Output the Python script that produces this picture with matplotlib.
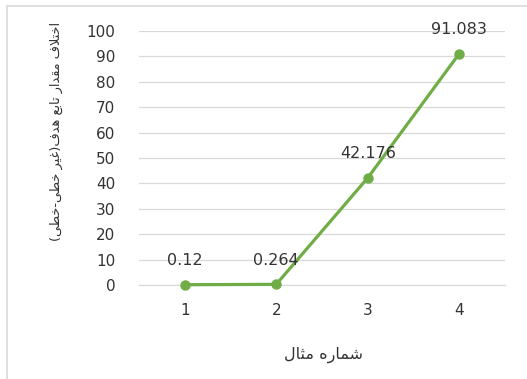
import matplotlib
matplotlib.use("Agg")
import matplotlib.pyplot as plt
from matplotlib.patches import Rectangle

categories = ["1", "2", "3", "4"]
values = [0.12, 0.264, 42.176, 91.083]
value_labels = ["0.12", "0.264", "42.176", "91.083"]
y_ticks = [0, 10, 20, 30, 40, 50, 60, 70, 80, 90, 100]
y_title = "اختلاف مقدار تابع هدف(غیر خطی-خطی)"
x_title = "شماره مثال"

FORMS = {
    'ا': ('\uFE8D', '\uFE8E', None, None),
    'ب': ('\uFE8F', '\uFE90', '\uFE91', '\uFE92'),
    'ت': ('\uFE95', '\uFE96', '\uFE97', '\uFE98'),
    'ث': ('\uFE99', '\uFE9A', '\uFE9B', '\uFE9C'),
    'خ': ('\uFEA5', '\uFEA6', '\uFEA7', '\uFEA8'),
    'د': ('\uFEA9', '\uFEAA', None, None),
    'ر': ('\uFEAD', '\uFEAE', None, None),
    'ش': ('\uFEB5', '\uFEB6', '\uFEB7', '\uFEB8'),
    'ط': ('\uFEC1', '\uFEC2', '\uFEC3', '\uFEC4'),
    'ع': ('\uFEC9', '\uFECA', '\uFECB', '\uFECC'),
    'غ': ('\uFECD', '\uFECE', '\uFECF', '\uFED0'),
    'ف': ('\uFED1', '\uFED2', '\uFED3', '\uFED4'),
    'ق': ('\uFED5', '\uFED6', '\uFED7', '\uFED8'),
    'ل': ('\uFEDD', '\uFEDE', '\uFEDF', '\uFEE0'),
    'م': ('\uFEE1', '\uFEE2', '\uFEE3', '\uFEE4'),
    'ه': ('\uFEE9', '\uFEEA', '\uFEEB', '\uFEEC'),
    'ی': ('\uFEEF', '\uFEF0', '\uFEF3', '\uFEF4'),
}


def shape(s):
    out = []
    i = 0
    n = len(s)
    while i < n:
        c = s[i]
        if c not in FORMS:
            out.append(c)
            i += 1
            continue
        prev = s[i - 1] if i > 0 else None
        pj = prev in FORMS and FORMS[prev][2] is not None
        if c == 'ل' and i + 1 < n and s[i + 1] == 'ا':
            out.append('\uFEFC' if pj else '\uFEFB')
            i += 2
            continue
        nxt = s[i + 1] if i + 1 < n else None
        nj = (nxt in FORMS) and FORMS[c][2] is not None
        iso, fin, ini, med = FORMS[c]
        if pj and nj:
            f = med
        elif pj:
            f = fin
        elif nj:
            f = ini
        else:
            f = iso
        out.append(f)
        i += 1
    vis = ''.join(out)[::-1]
    vis = vis.translate(str.maketrans({'(': ')', ')': '('}))
    return vis


W, H = 527, 379
fig = plt.figure(figsize=(W / 100, H / 100), dpi=100)
fig.patch.set_facecolor("white")

# outer chart border (left and top visible)
fig.add_artist(Rectangle((7 / W, -0.05), 1.2, (H + 20 - 7) / H * 1.0,
                         transform=fig.transFigure, fill=False,
                         edgecolor="#D9D9D9", linewidth=1.2))

TXT = "#333333"
ax = fig.add_axes([139 / W, 1 - 285 / H, (505 - 139) / W, (285 - 31) / H])
x = list(range(1, len(categories) + 1))
ax.plot(x, values, color="#70AD47", linewidth=2.3, marker="o",
        markersize=6.5, zorder=3, clip_on=False)
for xi, v, lab in zip(x, values, value_labels):
    ax.annotate(lab, (xi, v), xytext=(0, 12), textcoords="offset points",
                ha="center", va="bottom", fontsize=11.5, color=TXT,
                family="DejaVu Sans")

ax.set_xlim(0.5, len(categories) + 0.5)
ax.set_ylim(0, 100)
ax.set_yticks(y_ticks)
ax.set_xticks(x)
ax.set_xticklabels(categories)
ax.grid(axis="y", color="#D9D9D9", linewidth=0.9)
ax.set_axisbelow(True)
for sp in ["top", "right", "left"]:
    ax.spines[sp].set_visible(False)
ax.spines["bottom"].set_color("#D9D9D9")
ax.spines["bottom"].set_linewidth(0.9)
ax.tick_params(axis="both", length=0, labelsize=11, labelcolor=TXT)
ax.tick_params(axis="y", pad=17)
ax.tick_params(axis="x", pad=13)
for t in ax.get_xticklabels() + ax.get_yticklabels():
    t.set_family("DejaVu Sans")

fig.text(56 / W, 1 - 131 / H, shape(y_title), rotation=90, ha="center",
         va="center", fontsize=9.3, color=TXT, family="DejaVu Sans")
fig.text(324 / W, 1 - 355 / H, shape(x_title), ha="center", va="center",
         fontsize=11.5, color=TXT, family="DejaVu Sans")

fig.savefig("out.png", dpi=100, facecolor="white")
